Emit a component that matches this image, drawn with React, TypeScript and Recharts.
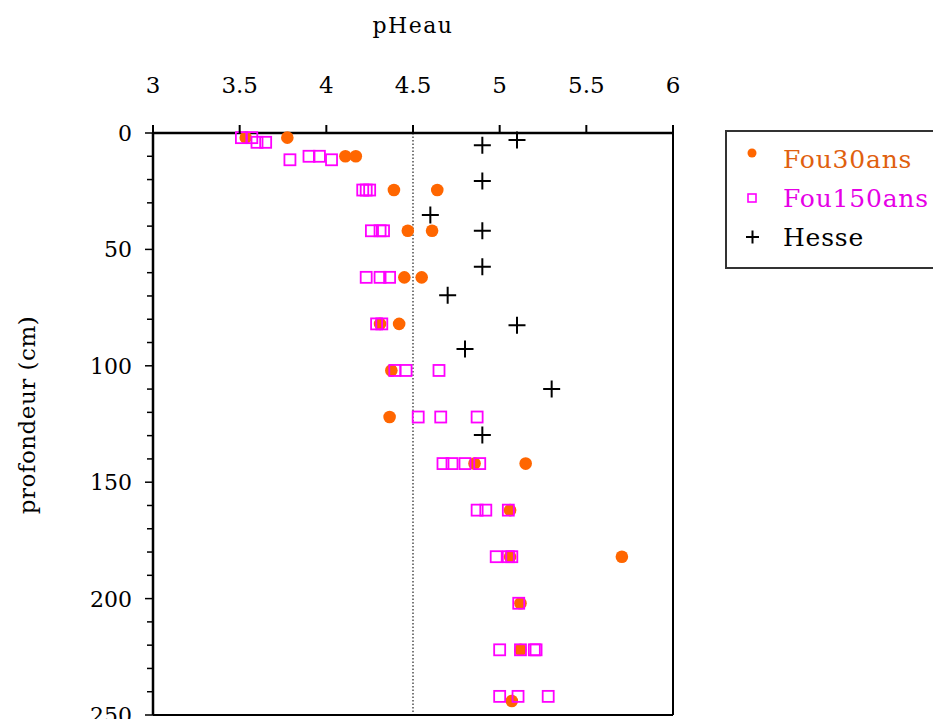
import React from 'react';
import { ScatterChart, Scatter, XAxis, YAxis, ReferenceLine, Label } from 'recharts';

const phTicks = [3, 3.5, 4, 4.5, 5, 5.5, 6];
const depthTicks = [0, 10, 20, 30, 40, 50, 60, 70, 80, 90, 100, 110, 120, 130, 140, 150, 160, 170, 180, 190, 200, 210, 220, 230, 240, 250];

// Fou30ans (orange dots)
const fou30Ph = [3.535, 3.775, 4.11, 4.17, 4.39, 4.64, 4.47, 4.61, 4.45, 4.55, 4.31, 4.42, 4.375, 4.365, 4.855, 5.15, 5.06, 5.06, 5.705, 5.12, 5.12, 5.07];
const fou30Depth = [2, 2, 10, 10, 24.5, 24.5, 42, 42, 62, 62, 82, 82, 102, 122, 142, 142, 162, 182, 182, 202, 222, 244];

// Fou150ans (magenta squares)
const fou150Ph = [3.51, 3.57, 3.6, 3.65, 3.79, 3.9, 3.96, 4.03, 4.21, 4.23, 4.25, 4.26, 4.31, 4.33, 4.23, 4.31, 4.365, 4.29, 4.32, 4.395, 4.46, 4.65, 4.53, 4.66, 4.87, 4.673, 4.725, 4.8, 4.885, 4.87, 4.92, 5.05, 4.98, 5.05, 5.07, 5.11, 5.0, 5.12, 5.2, 5.21, 5.0, 5.106, 5.28];
const fou150Depth = [2, 2, 4, 4, 11.5, 10, 10, 11.5, 24.5, 24.5, 24.5, 42, 42, 42, 62, 62, 62, 82, 82, 102, 102, 102, 122, 122, 122, 142, 142, 142, 142, 162, 162, 162, 182, 182, 182, 202, 222, 222, 222, 222, 242, 242, 242];

// Hesse (black crosses)
const hessePh = [5.1, 4.9, 4.9, 4.6, 4.9, 4.9, 4.7, 5.1, 4.8, 5.3, 4.9];
const hesseDepth = [3, 5.3, 20.6, 35.2, 42, 57.4, 69.7, 82.6, 92.8, 110, 129.7];

const toPoints = (ph: number[], depth: number[]) => ph.map((p, i) => ({ ph: p, depth: depth[i] }));

const font = '"DejaVu Serif", serif';

const Dot = (props: any) => <circle cx={props.cx} cy={props.cy} r={6.3} fill="#FF6600" />;
const Square = (props: any) => (
  <rect x={props.cx - 5.5} y={props.cy - 5.5} width={11} height={11} fill="none" stroke="#FF00FF" strokeWidth={1.8} />
);
const Cross = (props: any) => (
  <path d={`M${props.cx - 8.5},${props.cy}h17M${props.cx},${props.cy - 8.5}v17`} stroke="#000" strokeWidth={2} />
);

const XTick = ({ x, y, payload }: any) => (
  <g>
    <line x1={x} y1={y} x2={x} y2={y - 8} stroke="#000" strokeWidth={2} />
    <text x={x} y={y - 40} textAnchor="middle" fontFamily={font} fontSize={23} fill="#000">
      {payload.value}
    </text>
  </g>
);

const YTick = ({ x, y, payload }: any) => {
  const major = payload.value % 50 === 0;
  return (
    <g>
      <line x1={x} y1={y} x2={x - (major ? 8 : 6)} y2={y} stroke="#000" strokeWidth={1.5} />
      {major && (
        <text x={x - 21} y={y} dy="0.36em" textAnchor="end" fontFamily={font} fontSize={22} fill="#000">
          {payload.value}
        </text>
      )}
    </g>
  );
};

const Legend = () => (
  <svg width={933} height={719} style={{ position: 'absolute', left: 0, top: 0, pointerEvents: 'none' }}>
    <rect x={726} y={131} width={240} height={137} fill="#fff" stroke="#333" strokeWidth={2} />
    <circle cx={752} cy={153} r={4.5} fill="#FF6600" />
    <text x={783} y={159} dy="0.36em" fontFamily={font} fontSize={25} letterSpacing={0.8} fill="#E0600E">Fou30ans</text>
    <rect x={748} y={194} width={8} height={8} fill="none" stroke="#FF00FF" strokeWidth={1.6} />
    <text x={783} y={198} dy="0.36em" fontFamily={font} fontSize={25} letterSpacing={0.8} fill="#E600E6">Fou150ans</text>
    <path d="M746,237h13M752.5,230.5v13" stroke="#000" strokeWidth={2} />
    <text x={783} y={237} dy="0.36em" fontFamily={font} fontSize={25} letterSpacing={0.8} fill="#000">Hesse</text>
  </svg>
);

const App: React.FC = () => {
  return (
    <div style={{ position: 'absolute', left: 0, top: 0, width: 933, height: 719, overflow: 'hidden', background: '#fff' }}>
      <ScatterChart width={933} height={719} margin={{ top: 0, right: 0, bottom: 0, left: 0 }}>
        <XAxis
          dataKey="ph"
          type="number"
          orientation="top"
          domain={[3, 6]}
          ticks={phTicks}
          interval={0}
          height={133}
          tickSize={0}
          tickMargin={0}
          tick={<XTick />}
          axisLine={{ stroke: '#000', strokeWidth: 2.5 }}
        >
          <Label
            content={({ viewBox }: any) => (
              <text
                x={viewBox.x + viewBox.width / 2}
                y={33}
                textAnchor="middle"
                fontFamily={font}
                fontSize={22}
                letterSpacing={1.5}
                fill="#000"
              >
                pHeau
              </text>
            )}
          />
        </XAxis>
        <XAxis
          xAxisId="bottom"
          type="number"
          orientation="bottom"
          domain={[3, 6]}
          height={4}
          tick={false}
          tickLine={false}
          axisLine={{ stroke: '#000', strokeWidth: 2 }}
        />
        <YAxis
          dataKey="depth"
          type="number"
          reversed
          domain={[0, 250]}
          ticks={depthTicks}
          interval={0}
          width={153}
          tickSize={0}
          tickMargin={0}
          tick={<YTick />}
          axisLine={{ stroke: '#000', strokeWidth: 2.5 }}
        >
          <Label
            content={({ viewBox }: any) => {
              const cx = 27;
              const cy = viewBox.y + viewBox.height / 2 - 9;
              return (
                <text
                  x={cx}
                  y={cy}
                  transform={`rotate(-90 ${cx} ${cy})`}
                  textAnchor="middle"
                  dy="0.36em"
                  fontFamily={font}
                  fontSize={23}
                  letterSpacing={0.5}
                  fill="#000"
                >
                  profondeur (cm)
                </text>
              );
            }}
          />
        </YAxis>
        <YAxis
          yAxisId="right"
          type="number"
          orientation="right"
          reversed
          domain={[0, 250]}
          width={260}
          tick={false}
          tickLine={false}
          axisLine={{ stroke: '#000', strokeWidth: 2 }}
        />
        <ReferenceLine x={4.5} stroke="#333" strokeDasharray="1.5 2" strokeWidth={1.3} />
        <Scatter name="Fou30ans" data={toPoints(fou30Ph, fou30Depth)} shape={<Dot />} isAnimationActive={false} />
        <Scatter name="Fou150ans" data={toPoints(fou150Ph, fou150Depth)} shape={<Square />} isAnimationActive={false} />
        <Scatter name="Hesse" data={toPoints(hessePh, hesseDepth)} shape={<Cross />} isAnimationActive={false} />
      </ScatterChart>
      <Legend />
    </div>
  );
};

export default App;
